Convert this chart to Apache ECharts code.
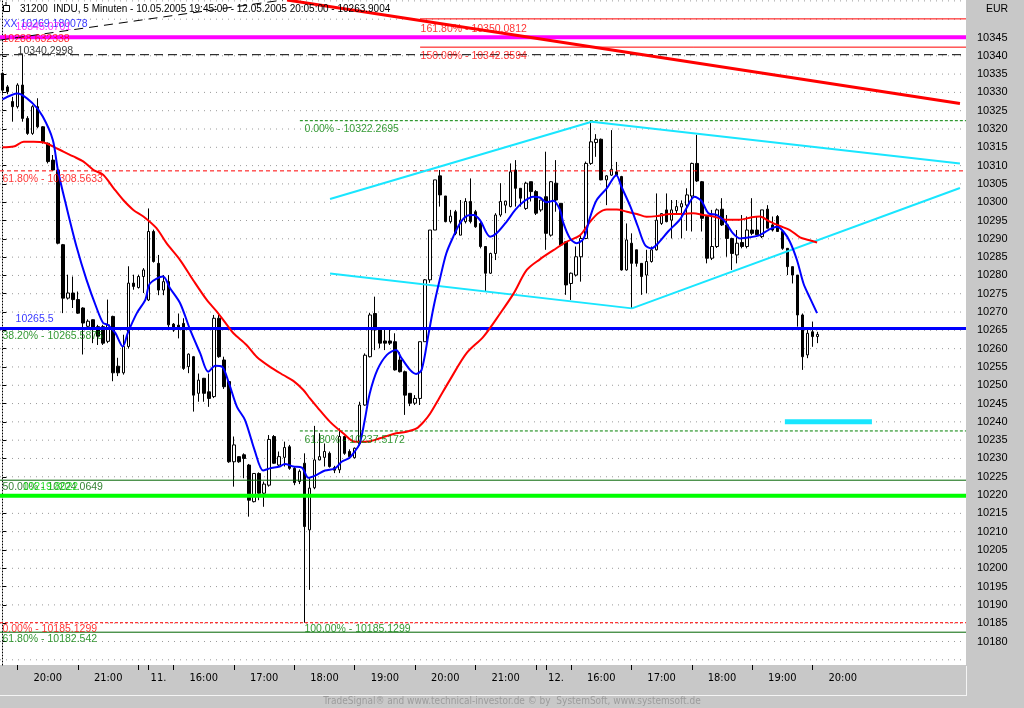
<!DOCTYPE html>
<html><head><meta charset="utf-8">
<script src="https://cdn.jsdelivr.net/npm/echarts@6/dist/echarts.min.js"></script>
<style>html,body{margin:0;padding:0;background:#c8c8c8;overflow:hidden}#c{width:1024px;height:708px}</style>
</head><body><div id="c"></div>
<script>
// ---------- data ----------
const sessions = [['10.05','19:45','22:05'],['11.05','15:35','22:05'],['12.05','15:35','20:05']];
const slotCount = 192;
// [open, close, low, high]
const ohlc = [
[10335.2,10330.6,10329.7,10335.4],[10331.5,10330.2,10329.5,10332],[10327.5,10326.1,10322,10328.8],[10326.1,10332,10325.6,10332.5],
[10332,10322.9,10322,10340.3],[10322.9,10318.8,10318.4,10323.5],[10318.8,10326.1,10318.4,10326.5],[10326.1,10320.6,10320.2,10328.4],
[10320.6,10316.5,10316,10320.8],[10316.1,10311.1,10310.6,10316.3],[10311.5,10308.8,10308.6,10312.9],[10308.8,10288.8,10288.5,10309],
[10288.4,10273.8,10269.7,10288.6],[10273.8,10275.2,10273.4,10280.2],[10275.2,10273.4,10271.1,10279.7],[10273.4,10269.7,10269.5,10275.6],
[10271.1,10267,10258.4,10271.3],[10266.1,10267.5,10265.5,10268],[10267.9,10265.2,10261.5,10268],[10266,10263.4,10261,10266.5],
[10266,10261.5,10261,10266.5],[10262,10266.5,10261.5,10273.4],[10268.8,10253.4,10251.1,10269],[10255.2,10253.4,10252.5,10257.5],
[10253.4,10260.6,10252.9,10263.8],[10260.6,10277.9,10260,10282.5],[10277.9,10277,10276.1,10280.2],[10276.7,10279.7,10276.4,10280.2],
[10279.7,10281.5,10275.2,10282],
[10273.3,10292,10273,10298.3],[10292,10283.8,10283.5,10292.5],[10283.3,10276,10274.6,10285.6],[10276,10278.3,10274.6,10280.1],
[10278.3,10266.5,10265.1,10280.1],[10266.7,10265.1,10264.6,10267],[10266.4,10265.5,10262.8,10269.6],[10266.9,10254.6,10254.2,10268.3],
[10255.1,10258.5,10253.3,10258.7],[10257.8,10247.3,10242.8,10258],[10247.8,10251.4,10245.5,10253.2],[10251.9,10247.8,10245.5,10252],
[10248.2,10246.4,10244.1,10253.2],[10246.9,10268.3,10246.5,10269.2],[10268.3,10257.8,10257.5,10269.2],[10256.9,10249.6,10249,10257.8],
[10251,10229.1,10228.8,10251.4],[10229.1,10233.7,10222.3,10236],[10230.5,10229.1,10228.8,10230.6],[10231,10230,10224.6,10231.4],
[10228.2,10218.6,10214.1,10228.5],[10218.2,10225.9,10218,10226],[10225.9,10220.5,10218.6,10226.2],[10220.5,10223,10216.8,10223.7],
[10222.7,10235.2,10222.3,10236.4],[10236,10228.7,10228.5,10236.4],[10228.2,10230.5,10227.8,10231.9],[10230.3,10233,10227.8,10234.6],
[10233.2,10227.3,10226.9,10233.7],[10227.3,10223.4,10222.7,10227.7],[10223.7,10226.5,10223,10227],[10228.7,10211.4,10185.13,10231.4],
[10210.5,10221.9,10194.1,10224.6],[10222,10229.6,10221.6,10238.9],[10229.6,10230.5,10229.5,10236.9],[10230.3,10231.9,10227.8,10234.1],
[10231.4,10227.8,10227.5,10231.9],[10227.5,10226.8,10226,10228],[10226.9,10236,10226,10238.2],[10236,10231.4,10231,10236.2],
[10231.9,10230.5,10230,10232.5],[10230.2,10232.8,10230,10233],[10234,10244.6,10233.5,10245.5],[10244.6,10258.2,10244.4,10258.7],
[10257.8,10269.2,10257.6,10269.8],[10269.6,10265.1,10259.6,10274.2],[10265.1,10261.5,10260.1,10265.5],[10262.1,10261.5,10259.6,10265.5],
[10262.1,10261.5,10261,10265.5],[10261.9,10254.2,10254,10264.2],[10256.9,10253.7,10253.5,10259],[10253.7,10247.3,10241.9,10254],
[10247.8,10245.1,10244.3,10247.8],[10245.1,10246.4,10244.6,10247.3],[10246.4,10261.9,10244.6,10261.9],[10261.9,10278.8,10261.9,10279],
[10278.8,10292.4,10278,10292.4],[10292.4,10306.1,10292.4,10306.1],[10307.2,10302,10298.8,10308.8],[10301.7,10294.7,10294.5,10301.7],
[10294.7,10296.2,10294.2,10297.9],[10297.4,10291.5,10291,10297.9],[10291,10295.1,10291,10300.6],[10294.7,10300.2,10294.2,10301.1],
[10300.2,10294.7,10294.2,10306.5],[10297.4,10293.3,10293,10297.9],[10294.2,10287.9,10287.4,10294.7],[10287.9,10280.6,10275.6,10287.9],
[10280.6,10286,10280.4,10286.2],[10286,10296.5,10284.2,10297],[10296.5,10300.2,10296,10305.2],[10299.2,10300.3,10297,10300.4],
[10298.8,10308.3,10298.6,10310.6],[10308.8,10303.8,10298.8,10311.5],[10303.8,10301.1,10298.8,10303.8],[10298.3,10305.2,10297.9,10305.6],
[10305.6,10302.9,10300.2,10305.6],[10302.9,10297,10296.5,10303.3],[10297.9,10300.6,10297.4,10300.6],
[10301.5,10291.5,10287,10313.8],[10291,10305.6,10290.6,10305.8],[10305.2,10300.6,10297.4,10311.5],[10299.7,10288.3,10288,10299.7],
[10289.2,10277.4,10274.7,10289.2],[10277.8,10280.6,10273.3,10280.8],[10280.1,10285.1,10279.7,10287.9],[10285.1,10290.1,10278.3,10291],
[10290.1,10310.6,10289.9,10311.1],[10310.6,10316.5,10310.2,10322.27],[10316.3,10317.2,10312.4,10318.6],[10317.2,10306.1,10306,10317.4],
[10306.1,10307.2,10299.2,10307.4],[10307.4,10309,10307.2,10319.7],[10308.3,10307.4,10307.2,10311],[10307,10281.5,10281.3,10307.2],
[10281.5,10289.7,10281.3,10294.2],[10288.8,10283.3,10271,10291.5],[10287,10283.3,10282.4,10287],[10283.3,10279.7,10274.7,10283.3],
[10280.1,10283.8,10275.1,10287],[10283.8,10287,10283.5,10287.9],[10287,10295.1,10286.8,10302.4],[10294.2,10296.9,10293.8,10296.9],
[10297.9,10294.7,10294.5,10302.4],[10295.1,10297.9,10290.1,10300.6],[10297.7,10298.8,10297,10300.6],[10298.7,10299.6,10290.1,10300.5],
[10299.2,10302,10292.2,10303.8],[10301.7,10310.6,10292,10310.8],[10310.6,10305.8,10305.5,10318.4],[10305.6,10295.6,10292,10305.8],
[10296.1,10284.7,10283.3,10296.3],[10284.7,10287.9,10284.2,10297.9],[10287.9,10297.9,10287.5,10298.3],[10298.1,10293.8,10293.5,10301.1],
[10293.8,10290.1,10285.1,10296.5],[10290.1,10286,10281.5,10290.3],[10285.6,10288.8,10283.3,10292.4],[10289,10287.9,10287.4,10296.5],
[10287.9,10292.4,10287.4,10296.1],[10292.4,10291.5,10291,10301.1],[10292.4,10291.1,10291,10296.1],[10290.6,10297.9,10290.2,10297.9],
[10298.1,10292.9,10292.9,10299.2],[10293.8,10292.4,10292,10296.1],[10296.1,10292,10292,10296.5],[10292,10287.4,10287,10292],
[10287.4,10282.4,10280.1,10287.4],[10282.4,10280.1,10277.8,10282.4],[10280.1,10269.2,10266,10280.1],[10269.2,10257.8,10254.2,10269.6],
[10258.3,10264.2,10257.4,10265.1],[10264.6,10263.3,10260.5,10267.4],[10263.3,10263.9,10261.5,10264.6]
];
// short moving average (blue): [bar index, value]
const blueLine = [[0,10328.1],[3,10329.7],[6,10327],[8,10323.4],[10,10317],[11,10308.8],[12.7,10298.8],[14.7,10287.9],[16.7,10278.8],[18.7,10271.1],[20,10267],[20.9,10266.5],[22.4,10264.3],[23.9,10260.6],[24.9,10264.3],[26.7,10269.7],[28.4,10273.4],[29.3,10277.8],[31.9,10279.7],[33.3,10276.5],[35.3,10272.4],[37.3,10265.1],[39.3,10258.7],[40.9,10253.7],[42.3,10255.3],[43.6,10255.1],[44.9,10251],[46.6,10244.1],[48.2,10240.5],[50.1,10232.3],[51.8,10226.7],[53.1,10227.3],[55.1,10227.8],[56.1,10228.5],[57.8,10227.8],[59.5,10227.5],[60.8,10224.7],[62.1,10225.3],[64.1,10226.7],[66.1,10227.3],[67.4,10229.1],[69,10230.2],[70,10231.9],[71,10234.1],[72,10240.5],[73,10247.8],[74.5,10254.2],[76.4,10258.3],[78.2,10259.6],[79.3,10257.4],[81,10254.2],[82.2,10253.1],[83.3,10254.2],[84.7,10264.2],[85.7,10271.5],[86.9,10278.8],[88.2,10286],[89.6,10290.6],[90.9,10294.2],[92.2,10296.2],[93.6,10296.5],[94.9,10295.1],[96.9,10290.6],[98.2,10291.5],[100.2,10294.7],[101.9,10297.9],[103.6,10300.2],[105.5,10301.5],[106.8,10301.3],[108.1,10300],[109.5,10300.4],[110.8,10297.9],[111.5,10294.2],[112.8,10290.1],[114.1,10288.8],[115.5,10290.1],[116.8,10296],[118.1,10300.6],[120.1,10303.8],[122,10307.4],[123,10304.3],[124.8,10298.8],[126.3,10293.3],[127.7,10288.3],[129,10287.4],[130.3,10288.8],[132.3,10292],[134.7,10295.4],[136,10298.5],[137.5,10301.5],[138.9,10300.4],[140.3,10297],[142,10296.5],[143.6,10294.7],[145.2,10291.5],[146.6,10290.1],[148.5,10290.4],[150.5,10291],[152.2,10292.4],[153.9,10293.3],[155.2,10292],[156.5,10289.2],[157.9,10284.2],[159.2,10277.8],[160.5,10273.8],[161.9,10269.7]];
// long moving average (red)
const redLine = [[0,10315],[2.2,10315.2],[4.2,10316.5],[6.2,10316.5],[8.2,10316.3],[10.1,10315.2],[12.1,10313.8],[14.1,10312.5],[16.1,10311.1],[18.1,10308.8],[20,10307.5],[22.1,10303.8],[24,10300.6],[26,10297.9],[28,10296.1],[30.6,10292.9],[32.6,10288.8],[35.3,10284.2],[37.9,10278.7],[40.6,10273.3],[42.6,10270.1],[44.6,10266.5],[45.9,10264.2],[48.5,10261],[50.5,10257.8],[53.1,10255.1],[55.8,10252.8],[57.8,10251.2],[59.8,10248.7],[61.1,10246.4],[62.5,10244.1],[65.1,10240],[67.7,10236.9],[70,10234.6],[72.4,10234.6],[75,10235.5],[77.7,10236.7],[80.3,10237.3],[82.3,10238.2],[83.7,10240],[85,10242.3],[86.6,10246],[88.9,10251.4],[92.2,10258.7],[95.6,10263.3],[98.9,10269.6],[101.6,10275.1],[104.2,10281.5],[106.8,10284.4],[109.5,10286.9],[112.1,10289.2],[114.8,10291],[116.8,10294.7],[118.4,10297],[120.1,10298],[122.1,10298],[124.1,10297.4],[126.1,10296.8],[128,10296],[130,10296.2],[132.7,10296.8],[135.3,10296.8],[137.3,10297],[139.3,10296.5],[141.3,10296.1],[143.9,10295.2],[146.5,10295.2],[148.9,10295.9],[150.5,10296.1],[152.5,10294.7],[154.5,10293.5],[156.5,10292.4],[158.5,10290.4],[160.2,10289.7],[161.9,10289]];
// x axis: [bar index, label] and tick bar indices
const xLabels = [[9,'20:00'],[21,'21:00'],[31,'11.'],[40,'16:00'],[52,'17:00'],[64,'18:00'],[76,'19:00'],[88,'20:00'],[100,'21:00'],[110,'12.'],[119,'16:00'],[131,'17:00'],[143,'18:00'],[155,'19:00'],[167,'20:00']];
const xTicks = [3,15,27,29,34,46,58,70,82,94,106,108,113,125,137,149,161];
const yTicks = [10180,10185,10190,10195,10200,10205,10210,10215,10220,10225,10230,10235,10240,10245,10250,10255,10260,10265,10270,10275,10280,10285,10290,10295,10300,10305,10310,10315,10320,10325,10330,10335,10340,10345];
const gridLevels = [10175,10180,10185,10190,10195,10200,10205,10210,10215,10220,10225,10230,10235,10240,10245,10250,10255,10260,10265,10270,10275,10280,10285,10290,10295,10300,10305,10310,10315,10320,10325,10330,10335,10340,10345,10350,10355];
// horizontal drawing levels: [price, start bar index]
const levelValues = [[10350.0812,83],[10342.3594,83],[10345.0701,-0.5],[10340.2998,-0.5],[10322.2695,59.1],[10308.5633,-0.5],[10265.5875,-0.5],[10265.5,-0.5],[10237.5172,59.1],[10224.0649,-0.5],[10219.8022,-0.5],[10185.1299,-0.5],[10182.542,-0.5]];
// trend lines: [[bar, price],[bar, price]]
const trendValues = [
 [[56.55,10355.24],[190.3,10326.94]],
 [[-0.5,10344.3],[55.75,10355.24]],
 [[65.1,10300.9],[117.1,10322.0]],
 [[117.1,10322.0],[190.3,10310.6]],
 [[65.1,10280.5],[125.1,10271.0]],
 [[125.1,10271.0],[190.3,10303.9]],
 [[155.5,10240],[172.8,10240]]
];
// text annotations: [text, bar index, price]
const noteValues = [
 ['XX 10269.180078',0.1,10348.7],
 ['10345.0701',2.5,10347.9],
 ['10288.632338',-0.1,10344.6],
 ['10340.2998',2.9,10341.4],
 ['161.80% - 10350.0812',83,10347.4],
 ['150.00% - 10342.3594',83,10339.8],
 ['0.00% - 10322.2695',59.9,10320.1],
 ['61.80% - 10308.5633',-0.1,10306.4],
 ['10265.5',2.5,10268.2],
 ['38.20% - 10265.5875',-0.1,10263.3],
 ['61.80% - 10237.5172',59.9,10235],
 ['50.00% - 10224.0649',-0.1,10222.3],
 ['10219.8022',3.9,10222.3],
 ['0.00% - 10185.1299',-0.1,10183.3],
 ['100.00% - 10185.1299',59.9,10183.3],
 ['61.80% - 10182.542',-0.1,10180.6]
];

// ---------- styles ----------
const levelStyles = [
 {color:'#ff0000',width:1},{color:'#ff0000',width:1},{color:'#ff00ff',width:4},{color:'#000000',width:1,type:[9,5]},
 {color:'#008000',width:1,type:[3,2]},{color:'#ff0000',width:1,type:[4,3]},{color:'#006400',width:1},{color:'#0000ff',width:3},
 {color:'#008000',width:1,type:[3,2]},{color:'#006400',width:1},{color:'#00ff00',width:4},{color:'#ff0000',width:1,type:[3,2]},
 {color:'#006400',width:1}
];
const trendStyles = [
 {color:'#ff0000',width:3},{color:'#000000',width:1,type:[9,6]},
 {color:'#19e6ff',width:2},{color:'#19e6ff',width:2},{color:'#19e6ff',width:2},{color:'#19e6ff',width:2},
 {color:'#19e6ff',width:5}
];
const noteColors = ['#0000ff','#ff00ff','#ff0000','#000000','#ff0000','#ff0000','#008000','#ff0000','#0000ff','#008000','#008000','#006400','#00e000','#ff0000','#008000','#008000'];

// ---------- build ----------
function pad(n){return (n<10?'0':'')+n;}
const categories = [];
sessions.forEach(([d,s,e])=>{
  let [h,m]=s.split(':').map(Number); const [eh,em]=e.split(':').map(Number);
  while(h*60+m<=eh*60+em){categories.push(d+' '+pad(h)+':'+pad(m)); m+=5; if(m>=60){m-=60;h++;}}
});
while(categories.length<slotCount) categories.push('');
const labelMap = new Map(xLabels);
const tickSet = new Set(xTicks);
const FONT = 'Liberation Sans, Arial, sans-serif';
const NARROW = 'Liberation Sans Narrow, DejaVu Sans Condensed, sans-serif';

const series = [];
gridLevels.forEach(v=>series.push({type:'line',xAxisIndex:1,yAxisIndex:0,data:[[-0.5,v],[slotCount-0.5,v]],symbol:'none',silent:true,z:1,
  lineStyle:{color:'#9a9a9a',width:1,type:[1,5]}}));
series.push({type:'candlestick',xAxisIndex:0,yAxisIndex:0,data:ohlc,barWidth:3,z:2,
  itemStyle:{color:'#ffffff',color0:'#000000',borderColor:'#000000',borderColor0:'#000000',borderWidth:1}});
levelValues.forEach(([v,from],k)=>series.push({type:'line',xAxisIndex:1,yAxisIndex:0,data:[[from,v],[slotCount-0.5,v]],symbol:'none',silent:true,z:3,
  lineStyle:levelStyles[k]}));
trendValues.forEach((pts,k)=>series.push({type:'line',xAxisIndex:1,yAxisIndex:0,data:pts,symbol:'none',silent:true,z:3,lineStyle:trendStyles[k]}));
series.push({type:'line',xAxisIndex:1,yAxisIndex:0,data:redLine,symbol:'none',smooth:0.3,z:4,lineStyle:{color:'#ff0000',width:2}});
series.push({type:'line',xAxisIndex:1,yAxisIndex:0,data:blueLine,symbol:'none',smooth:0.3,z:4,lineStyle:{color:'#0000ff',width:2}});
series.push({type:'scatter',xAxisIndex:1,yAxisIndex:0,symbolSize:1,z:5,silent:true,itemStyle:{color:'rgba(0,0,0,0)'},
  data:noteValues.map(([t,x,y],k)=>({value:[x,y],label:{show:true,formatter:t,color:noteColors[k]}})),
  label:{show:true,position:'right',distance:0,fontSize:10.5,fontFamily:FONT}});

const chart = echarts.init(document.getElementById('c'),null,{renderer:'canvas'});
chart.setOption({
  animation:false,
  backgroundColor:'#c8c8c8',
  grid:{left:0,right:58,top:0,bottom:43,show:true,backgroundColor:'#ffffff',borderWidth:0},
  xAxis:[
    {type:'category',data:categories,boundaryGap:true,
     axisLine:{show:false},
     axisTick:{show:true,alignWithLabel:true,length:5,interval:(i)=>tickSet.has(i),lineStyle:{color:'#000'}},
     axisLabel:{interval:(i)=>labelMap.has(i),formatter:(v,i)=>labelMap.get(i)||'',fontSize:11,fontFamily:NARROW,color:'#000',margin:8},
     splitLine:{show:false}},
    {type:'value',min:-0.5,max:slotCount-0.5,show:false}
  ],
  yAxis:[{type:'value',position:'right',min:10173.58,max:10355.24,offset:3,scale:true,
     axisLine:{show:true,lineStyle:{color:'#000',type:[1,2]}},
     axisTick:{show:true,length:4,customValues:yTicks,lineStyle:{color:'#000'}},
     axisLabel:{customValues:yTicks,formatter:(v)=>String(v),fontSize:11,fontFamily:FONT,color:'#000',margin:8},
     splitLine:{show:false}}],
  graphic:[
    {type:'rect',left:3,top:5,z:100,shape:{width:6,height:6},style:{fill:'#fff',stroke:'#000',lineWidth:1}},
    {type:'line',z:100,shape:{x1:6,y1:2,x2:6,y2:5},style:{stroke:'#000'}},
    {type:'text',left:20,top:4,z:100,style:{text:'31200  INDU, 5 Minuten - 10.05.2005 19:45:00 - 12.05.2005 20:05:00 - 10263.9004',font:'10px '+FONT,fill:'#000'}},
    {type:'text',left:986,top:4,z:100,style:{text:'EUR',font:'10.5px '+FONT,fill:'#000'}},
    {type:'line',z:100,shape:{x1:0,y1:695.5,x2:966,y2:695.5},style:{stroke:'#f4f4f4',lineWidth:1}},
    {type:'line',z:100,shape:{x1:966.5,y1:666,x2:966.5,y2:696},style:{stroke:'#f4f4f4',lineWidth:1}},
    {type:'text',left:'center',top:696,z:100,style:{text:'TradeSignal\u00ae and www.technical-investor.de \u00a9 by  SystemSoft, www.systemsoft.de',font:'10px '+NARROW,fill:'#9c9c9c'}}
  ],
  series:series
});
</script></body></html>
